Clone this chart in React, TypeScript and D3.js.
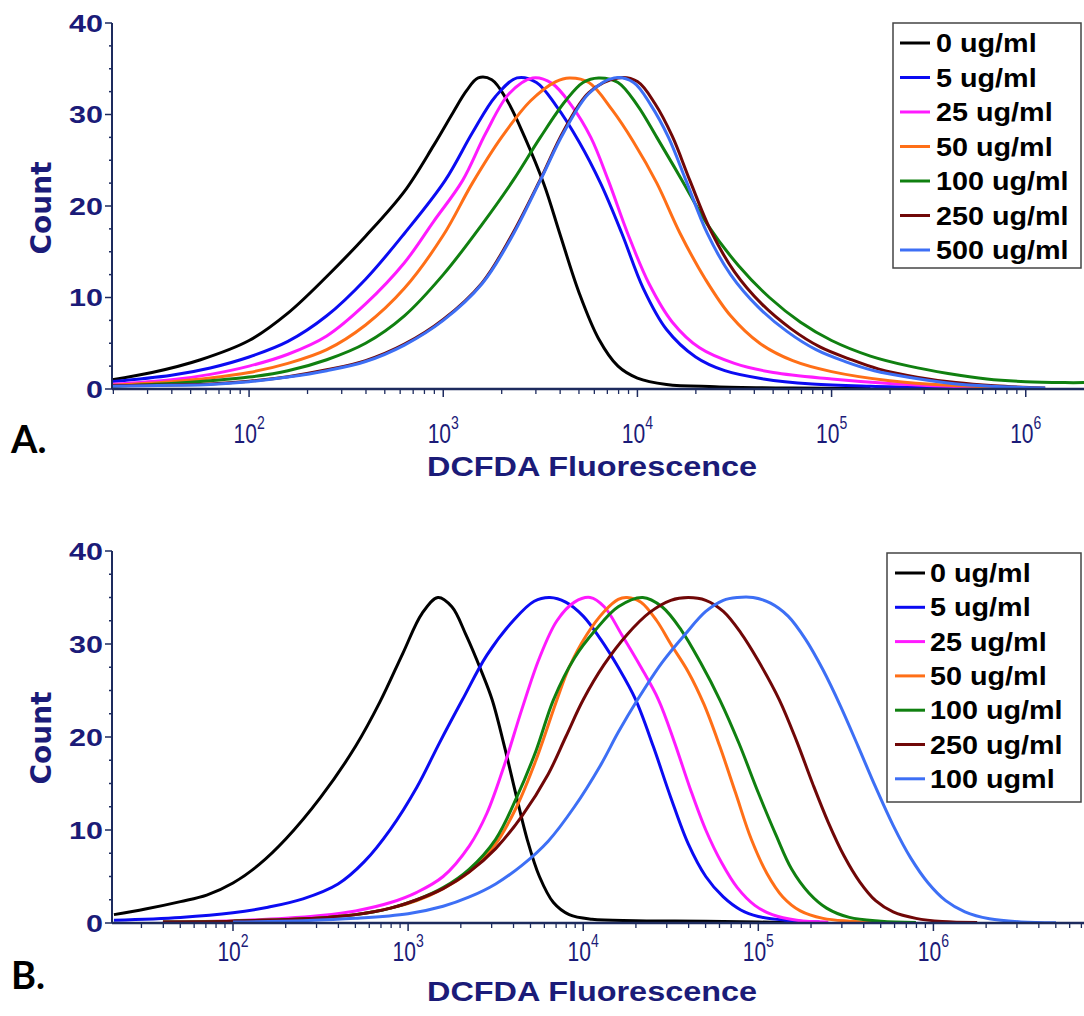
import React, { useEffect } from 'react';
import * as d3 from 'd3';

// ---------- data ----------
const legendA = ['0 ug/ml', '5 ug/ml', '25 ug/ml', '50 ug/ml', '100 ug/ml', '250 ug/ml', '500 ug/ml'];
const legendB = ['0 ug/ml', '5 ug/ml', '25 ug/ml', '50 ug/ml', '100 ug/ml', '250 ug/ml', '100 ugml'];
const seriesColors = ['#000000', '#0b0bf2', '#ff1aff', '#ff6f17', '#108010', '#700707', '#3d6ff5'];
const yTickValues = [0, 10, 20, 30, 40];
const xDecades = [2, 3, 4, 5, 6];

// each point: [log10(DCFDA fluorescence), count]
const a0 = [[1.29,1],[1.5,1.8],[1.75,3.2],[2.0,5.3],[2.2,8.3],[2.4,12.3],[2.6,16.7],[2.8,21.6],[2.95,26.6],[3.05,30.2],[3.12,32.6],[3.18,34],[3.25,33.8],[3.33,31.5],[3.42,27.5],[3.52,22.3],[3.6,17],[3.7,10.5],[3.8,5.5],[3.9,2.5],[4.0,1.2],[4.15,0.5],[4.4,0.25],[4.8,0.1],[5.2,0.05]];
const a5 = [[1.29,0.8],[1.6,1.5],[1.8,2.3],[2.0,3.5],[2.2,5.2],[2.4,8],[2.6,12],[2.8,17],[3.01,22.8],[3.15,28],[3.27,32],[3.38,34],[3.48,33.5],[3.58,31],[3.7,27],[3.81,22.5],[3.92,17],[4.03,11],[4.15,6.5],[4.3,3.5],[4.45,2],[4.65,1.1],[4.9,0.55],[5.2,0.3],[5.6,0.15],[6.0,0.05]];
const a25 = [[1.29,0.5],[1.6,1],[1.8,1.6],[2.0,2.5],[2.2,3.8],[2.4,5.8],[2.6,9.3],[2.8,13.8],[2.95,18.3],[3.1,22.8],[3.22,28],[3.34,32.3],[3.46,34],[3.56,33.4],[3.66,31],[3.76,27.5],[3.85,22.8],[3.95,17],[4.06,11.5],[4.18,7.3],[4.32,4.5],[4.5,2.8],[4.7,1.8],[5.0,1.1],[5.3,0.6],[5.6,0.3],[6.0,0.1]];
const a50 = [[1.29,0.4],[1.6,0.8],[1.8,1.2],[2.0,1.8],[2.2,2.8],[2.4,4.3],[2.6,7],[2.8,11],[3.0,16.8],[3.15,22.5],[3.3,27.5],[3.45,31.5],[3.58,33.6],[3.65,34],[3.75,33.5],[3.87,30.5],[3.98,27],[4.1,22.5],[4.22,17],[4.35,12],[4.48,8],[4.63,5],[4.8,3.1],[5.0,1.9],[5.3,0.9],[5.6,0.4],[6.0,0.15]];
const a100 = [[1.29,0.3],[1.6,0.6],[1.8,0.9],[2.0,1.3],[2.2,2],[2.4,3.2],[2.6,5],[2.8,8],[3.0,12.5],[3.2,18],[3.36,22.8],[3.5,27.5],[3.63,31.5],[3.72,33.5],[3.8,34],[3.9,33.5],[4.0,31],[4.1,27.5],[4.23,22.8],[4.36,18],[4.52,13.5],[4.68,10],[4.84,7.3],[5.0,5.3],[5.2,3.6],[5.4,2.5],[5.6,1.7],[5.8,1.1],[6.0,0.8],[6.2,0.7],[6.3,0.7]];
const a250 = [[1.29,0.35],[1.6,0.45],[1.8,0.55],[2.0,0.85],[2.2,1.35],[2.4,2.1],[2.6,3.1],[2.8,4.9],[3.0,7.6],[3.2,11.6],[3.35,16.7],[3.5,22.9],[3.62,28.2],[3.75,32.4],[3.9,34],[4.0,33.6],[4.09,31.2],[4.18,27.6],[4.27,22.8],[4.38,17.2],[4.5,12.8],[4.64,9.3],[4.79,6.6],[4.94,4.6],[5.09,3.3],[5.24,2.2],[5.44,1.3],[5.64,0.7],[5.84,0.35],[6.1,0.1]];
const a500 = [[1.29,0.3],[1.6,0.4],[1.8,0.5],[2.0,0.8],[2.2,1.3],[2.4,2],[2.6,3],[2.8,4.8],[3.0,7.5],[3.2,11.5],[3.35,16.5],[3.5,22.8],[3.62,28],[3.75,32.3],[3.88,34],[3.98,33.5],[4.07,31],[4.16,27.5],[4.25,22.8],[4.36,17],[4.48,12.5],[4.62,9],[4.77,6.3],[4.92,4.3],[5.07,3],[5.22,2],[5.42,1.2],[5.62,0.6],[5.82,0.3],[6.1,0.1]];

const b0 = [[1.32,0.9],[1.5,1.5],[1.7,2.3],[1.85,3],[2.0,4.3],[2.15,6.3],[2.3,9],[2.5,13.5],[2.7,19],[2.84,23.8],[2.97,29],[3.08,33.3],[3.17,35],[3.25,34],[3.33,31],[3.42,27],[3.48,24],[3.55,19],[3.62,13.5],[3.68,9],[3.75,5],[3.83,2.2],[3.92,0.9],[4.05,0.4],[4.3,0.25],[4.7,0.2],[5.0,0.1],[5.2,0.05]];
const b5 = [[1.32,0.3],[1.7,0.6],[2.0,1.1],[2.2,1.7],[2.4,2.6],[2.6,4.2],[2.75,6.6],[2.9,10.1],[3.05,14.6],[3.18,19.4],[3.31,24],[3.45,28.8],[3.6,32.5],[3.72,34.6],[3.81,35],[3.9,34.5],[4.0,33],[4.1,30.5],[4.2,27.5],[4.3,24],[4.4,19],[4.5,13.5],[4.6,8.5],[4.7,5],[4.8,2.8],[4.9,1.4],[5.0,0.7],[5.15,0.3],[5.35,0.1]];
const b25 = [[1.6,0.1],[2.0,0.25],[2.3,0.5],[2.5,0.8],[2.7,1.3],[2.9,2.2],[3.05,3.3],[3.2,5],[3.35,8.3],[3.45,11.8],[3.55,17],[3.65,23],[3.75,28.5],[3.85,32.5],[3.95,34.5],[4.04,35],[4.12,34],[4.22,31],[4.33,27.5],[4.43,24],[4.52,19.5],[4.61,14.5],[4.7,10],[4.79,6.5],[4.88,3.8],[4.98,1.9],[5.08,0.9],[5.22,0.3],[5.4,0.1]];
const b50 = [[1.6,0.1],[2.0,0.2],[2.4,0.45],[2.7,0.9],[2.9,1.6],[3.05,2.4],[3.2,3.7],[3.35,5.5],[3.5,8.5],[3.62,12.5],[3.73,17.5],[3.85,24],[3.92,27.5],[4.02,31],[4.12,33.5],[4.2,34.8],[4.25,35],[4.33,34.5],[4.42,32.5],[4.5,30],[4.6,27],[4.69,23.5],[4.78,19],[4.87,14],[4.96,9],[5.05,5.3],[5.14,2.8],[5.24,1.3],[5.37,0.5],[5.52,0.2],[5.7,0.05]];
const b100 = [[1.6,0.1],[2.0,0.2],[2.4,0.45],[2.7,0.9],[2.9,1.6],[3.05,2.5],[3.2,3.8],[3.35,5.8],[3.5,9],[3.62,13.5],[3.73,18.5],[3.83,24],[3.95,28.5],[4.07,31.5],[4.2,34],[4.34,35],[4.45,34],[4.56,31.5],[4.67,28],[4.78,24],[4.89,19.3],[5.0,14],[5.1,9.5],[5.19,5.8],[5.29,3.2],[5.39,1.6],[5.52,0.6],[5.7,0.2],[5.9,0.05]];
const b250 = [[1.6,0.1],[2.0,0.2],[2.4,0.45],[2.7,0.9],[2.9,1.6],[3.05,2.5],[3.2,3.7],[3.35,5.5],[3.5,8],[3.65,11.5],[3.8,16],[3.9,20],[4.0,24],[4.12,27.8],[4.25,31],[4.38,33.4],[4.5,34.7],[4.6,35],[4.7,34.7],[4.8,33.5],[4.9,31.2],[5.0,28.2],[5.12,24],[5.22,19.5],[5.31,15],[5.4,10.8],[5.49,7.2],[5.58,4.4],[5.67,2.4],[5.77,1.2],[5.9,0.5],[6.05,0.15],[6.25,0.05]];
const b100b = [[2.0,0.1],[2.4,0.25],[2.7,0.5],[3.0,1],[3.2,1.8],[3.35,2.8],[3.5,4.2],[3.65,6.2],[3.8,8.8],[3.95,12.5],[4.1,17],[4.2,20.5],[4.31,24],[4.45,28],[4.58,31],[4.7,33.5],[4.8,34.7],[4.88,35],[4.97,35],[5.07,34.4],[5.17,33],[5.27,30.5],[5.37,27.2],[5.47,23.3],[5.57,19],[5.67,14.6],[5.77,10.5],[5.87,7],[5.97,4.3],[6.07,2.4],[6.18,1.2],[6.32,0.45],[6.5,0.12],[6.7,0.03]];

const seriesA = [a0, a5, a25, a50, a100, a250, a500];
const seriesB = [b0, b5, b25, b50, b100, b250, b100b];

// ---------- drawing ----------
const NAVY = '#1b1b78';
const AXIS = '#1d2b5e';
const ARIAL = 'Liberation Sans, Arial, sans-serif';

type PanelProps = {
  id: string;
  series: number[][][];
  legend: string[];
  yTop: number;
  yBottom: number;
  xMinExp: number;
  xMaxExp: number;
  letter: string;
  tickLabelY: number;
  titleY: number;
  countY: number;
  letterY: number;
  legendBox: { x: number; y: number; w: number; h: number; first: number; step: number; lineX: number; textX: number };
};

function Panel(p: PanelProps) {
  const left = 112;
  const right = 1084;
  const x = d3.scaleLog().domain([Math.pow(10, p.xMinExp), Math.pow(10, p.xMaxExp)]).range([left, right]);
  const y = d3.scaleLinear().domain([0, 40]).range([p.yBottom, p.yTop]);
  const line = d3
    .line<number[]>()
    .x((d) => x(Math.pow(10, d[0])))
    .y((d) => y(d[1]))
    .curve(d3.curveCatmullRom.alpha(0.5));

  const minor: number[] = [];
  for (let d = 1; d <= 7; d++) {
    for (let m = 2; m <= 9; m++) {
      const v = m * Math.pow(10, d);
      if (v >= x.domain()[0] && v <= x.domain()[1]) minor.push(v);
    }
  }
  const yMinor = d3.range(0, 40.01, 2.5);

  return (
    <g>
      <defs>
        <clipPath id={`clip-${p.id}`}>
          <rect x={left} y={p.yTop - 5} width={right - left} height={p.yBottom - p.yTop + 6} />
        </clipPath>
      </defs>
      {/* curves */}
      <g clipPath={`url(#clip-${p.id})`}>
        {p.series.map((s, i) => (
          <path key={i} d={line(s) || ''} fill="none" stroke={seriesColors[i]} strokeWidth={3} strokeLinejoin="round" />
        ))}
      </g>
      {/* y axis */}
      <line x1={left} x2={left} y1={p.yTop} y2={p.yBottom} stroke={AXIS} strokeWidth={2} />
      {yMinor.map((v) => (
        <line key={v} x1={left} x2={left - (v % 10 === 0 ? 7 : 3)} y1={y(v)} y2={y(v)} stroke={AXIS} strokeWidth={1.5} />
      ))}
      {yTickValues.map((v) => (
        <text
          key={v}
          transform={`translate(${left - 9},${y(v)}) scale(1.27,1)`}
          dy="0.36em"
          textAnchor="end"
          fontFamily={ARIAL}
          fontWeight="bold"
          fontSize={24}
          fill={NAVY}
        >
          {v}
        </text>
      ))}
      {/* x axis */}
      <line x1={left} x2={right} y1={p.yBottom} y2={p.yBottom} stroke={AXIS} strokeWidth={2.5} />
      {minor.map((v, i) => (
        <line key={i} x1={x(v)} x2={x(v)} y1={p.yBottom} y2={p.yBottom + 5} stroke={AXIS} strokeWidth={1.3} />
      ))}
      {xDecades.map((d) => (
        <g key={d}>
          <line x1={x(Math.pow(10, d))} x2={x(Math.pow(10, d))} y1={p.yBottom} y2={p.yBottom + 8} stroke={AXIS} strokeWidth={1.5} />
          <text
            transform={`translate(${x(Math.pow(10, d))},${p.tickLabelY}) scale(0.78,1)`}
            textAnchor="middle"
            fontFamily={ARIAL}
            fontSize={27}
            fill={NAVY}
          >
            10
            <tspan dy={-14} fontSize={18}>
              {d}
            </tspan>
          </text>
        </g>
      ))}
      <text
        transform={`translate(592,${p.titleY}) scale(1.2,1)`}
        textAnchor="middle"
        fontFamily={ARIAL}
        fontWeight="bold"
        fontSize={27}
        fill={NAVY}
      >
        DCFDA Fluorescence
      </text>
      <text
        transform={`translate(51,${p.countY}) rotate(-90)`}
        textAnchor="middle"
        fontFamily="DejaVu Sans, Liberation Sans, sans-serif"
        fontWeight="bold"
        fontSize={28}
        fill={NAVY}
      >
        Count
      </text>
      <text x={11} y={p.letterY} fontFamily="Lato, Open Sans, sans-serif" fontWeight="bold" fontSize={38} fill="#000">
        {p.letter}
      </text>
      {/* legend */}
      <rect x={p.legendBox.x} y={p.legendBox.y} width={p.legendBox.w} height={p.legendBox.h} fill="#fff" stroke="#444" strokeWidth={1.5} />
      {p.legend.map((name, i) => {
        const cy = p.legendBox.first + i * p.legendBox.step;
        return (
          <g key={name + i}>
            <line x1={p.legendBox.lineX} x2={p.legendBox.lineX + 30} y1={cy} y2={cy} stroke={seriesColors[i]} strokeWidth={3} />
            <text
              transform={`translate(${p.legendBox.textX},${cy}) scale(1.15,1)`}
              dy="0.36em"
              fontFamily={ARIAL}
              fontWeight="bold"
              fontSize={25}
              fill="#000"
            >
              {name}
            </text>
          </g>
        );
      })}
    </g>
  );
}

export default function App() {
  useEffect(() => {
    document.body.style.margin = '0';
  }, []);
  return (
    <svg width={1084} height={1016} viewBox="0 0 1084 1016" style={{ display: 'block', background: '#fff' }}>
      <rect width={1084} height={1016} fill="#fff" />
      <Panel
        id="a"
        series={seriesA}
        legend={legendA}
        yTop={23}
        yBottom={389}
        xMinExp={1.294}
        xMaxExp={6.3}
        letter="A."
        tickLabelY={443}
        titleY={476}
        countY={208}
        letterY={453}
        legendBox={{ x: 893, y: 23, w: 188, h: 245, first: 43, step: 34.5, lineX: 900, textX: 936 }}
      />
      <Panel
        id="b"
        series={seriesB}
        legend={legendB}
        yTop={551}
        yBottom={923}
        xMinExp={1.309}
        xMaxExp={6.86}
        letter="B."
        tickLabelY={961}
        titleY={1001}
        countY={738}
        letterY={989}
        legendBox={{ x: 887, y: 553, w: 194, h: 249, first: 573, step: 34.3, lineX: 895, textX: 930 }}
      />
    </svg>
  );
}
